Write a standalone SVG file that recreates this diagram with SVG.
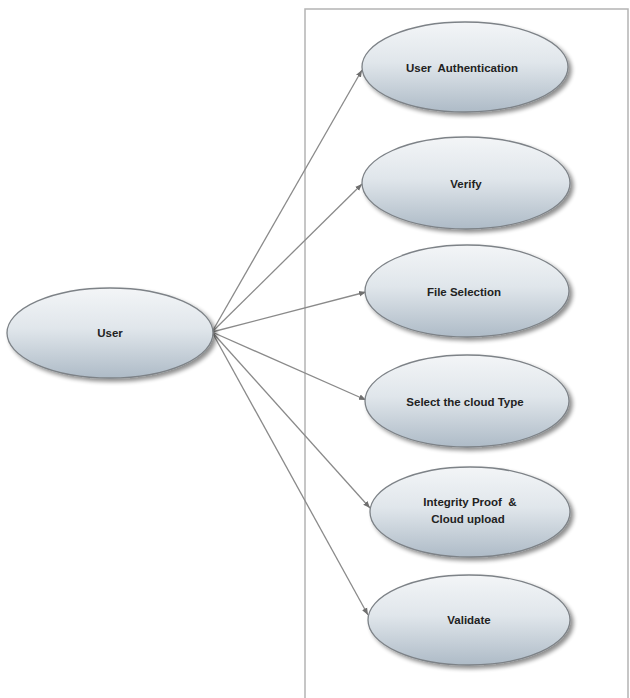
<svg xmlns="http://www.w3.org/2000/svg" width="630" height="698" viewBox="0 0 630 698">
<style>
.uc{fill:url(#g);stroke:#7d8287;stroke-width:1.3;filter:url(#sh)}
.t{font-family:"Liberation Sans",Arial,sans-serif;font-size:11.5px;font-weight:bold;fill:#222222;text-anchor:middle;white-space:pre}
.c{stroke:#8a8a8a;stroke-width:1.3;fill:none;marker-end:url(#ah)}
.frame{stroke:#b4b4b4;stroke-width:1.5;fill:none}
</style>
<defs>
<linearGradient id="g" x1="0" y1="0" x2="0" y2="1">
<stop offset="0" stop-color="#f3f5f7"/>
<stop offset="0.45" stop-color="#e0e6eb"/>
<stop offset="1" stop-color="#aebbc7"/>
</linearGradient>
<filter id="sh" x="-10%" y="-10%" width="125%" height="135%">
<feGaussianBlur in="SourceAlpha" stdDeviation="2"/>
<feOffset dx="3" dy="3" result="b"/>
<feComponentTransfer><feFuncA type="linear" slope="0.45"/></feComponentTransfer>
<feMerge><feMergeNode/><feMergeNode in="SourceGraphic"/></feMerge>
</filter>
<marker id="ah" viewBox="0 0 10 10" refX="10" refY="5" markerWidth="7" markerHeight="7" orient="auto" markerUnits="userSpaceOnUse">
<path d="M0,1 L10,5 L0,9 z" fill="#6f6f6f"/>
</marker>
</defs>
<rect width="630" height="698" fill="#ffffff"/>
<path class="frame" d="M305,698 L305,9 L628,9 L628,698"/>
<g id="connectors">
<line class="c" x1="212" y1="332" x2="362" y2="70"/>
<line class="c" x1="212" y1="332" x2="362" y2="184"/>
<line class="c" x1="212" y1="332" x2="366" y2="292"/>
<line class="c" x1="212" y1="332" x2="366" y2="400"/>
<line class="c" x1="212" y1="332" x2="370" y2="508"/>
<line class="c" x1="212" y1="332" x2="368" y2="615"/>
</g>
<g id="user">
<ellipse class="uc" cx="110" cy="333" rx="103" ry="45"/>
<text class="t" x="110" y="337">User</text>
</g>
<g id="user-authentication">
<ellipse class="uc" cx="465" cy="67" rx="103" ry="45"/>
<text class="t" x="462" y="72" xml:space="preserve">User  Authentication</text>
</g>
<g id="verify">
<ellipse class="uc" cx="466" cy="183" rx="104" ry="46"/>
<text class="t" x="466" y="188">Verify</text>
</g>
<g id="file-selection">
<ellipse class="uc" cx="467" cy="291" rx="102" ry="46"/>
<text class="t" x="464" y="296">File Selection</text>
</g>
<g id="select-cloud-type">
<ellipse class="uc" cx="467" cy="401" rx="102" ry="46"/>
<text class="t" x="465" y="406">Select the cloud Type</text>
</g>
<g id="integrity-proof">
<ellipse class="uc" cx="470" cy="512" rx="100" ry="45"/>
<text class="t" x="470" y="506" xml:space="preserve">Integrity Proof  &amp;</text>
<text class="t" x="468" y="523">Cloud upload</text>
</g>
<g id="validate">
<ellipse class="uc" cx="469" cy="620" rx="101" ry="45"/>
<text class="t" x="469" y="624">Validate</text>
</g>
</svg>
